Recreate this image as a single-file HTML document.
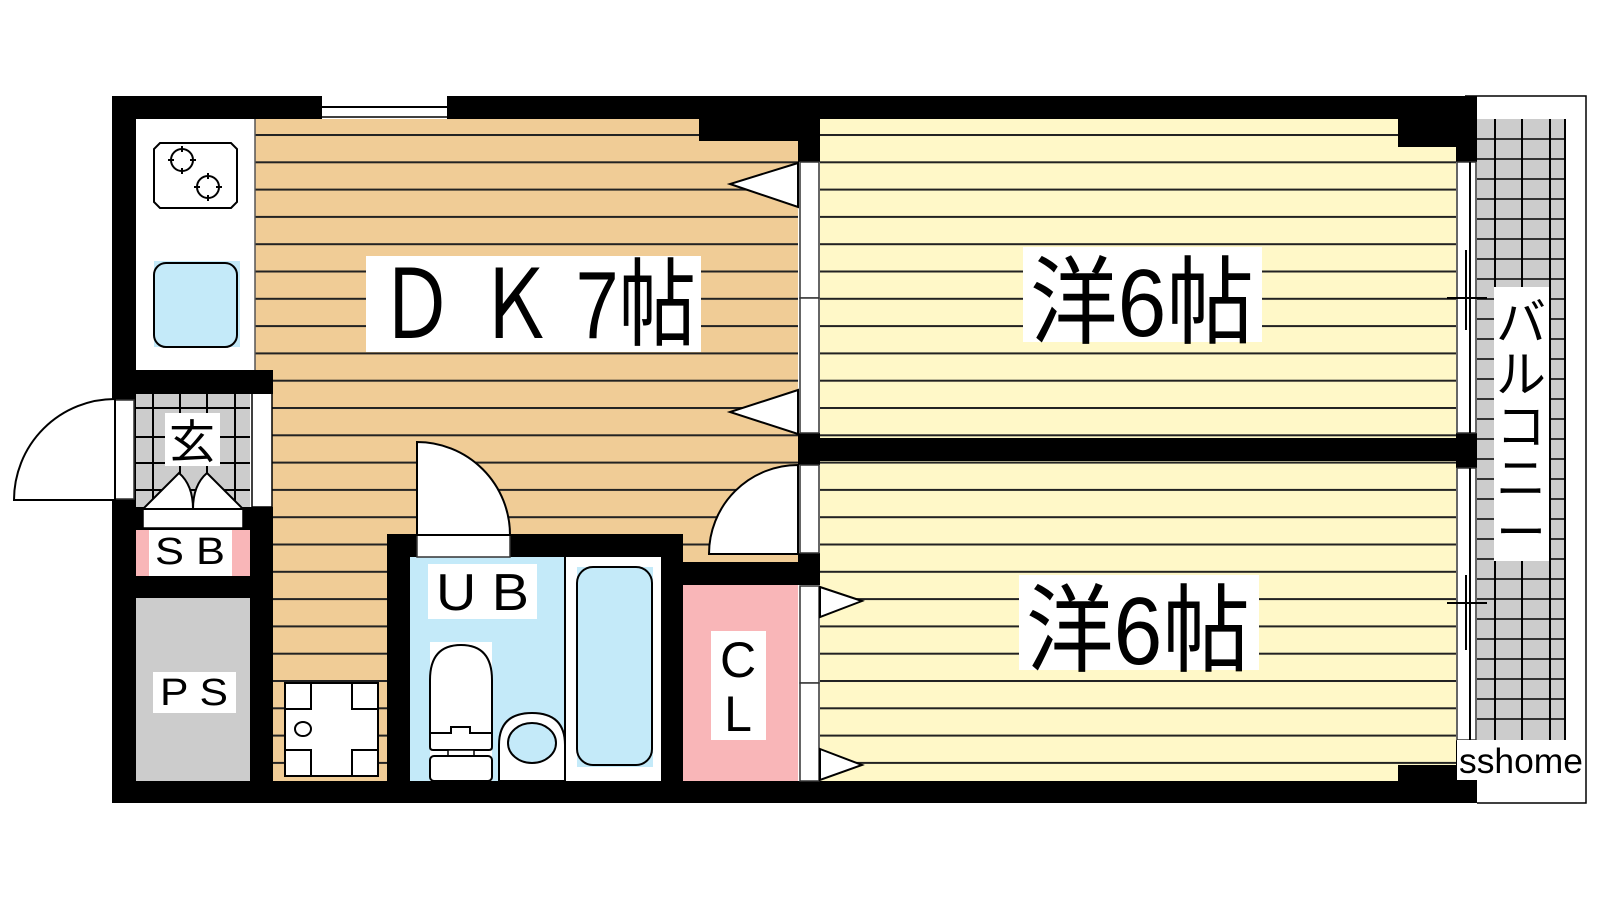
<!DOCTYPE html>
<html><head><meta charset="utf-8"><style>
html,body{margin:0;padding:0;background:#fff;}
svg{display:block}
text{font-family:"Liberation Sans","Noto Sans CJK JP",sans-serif;fill:#000}
</style></head><body>
<svg width="1600" height="900" viewBox="0 0 1600 900" xmlns="http://www.w3.org/2000/svg">
<defs>
<pattern id="dk" patternUnits="userSpaceOnUse" x="0" y="134" width="40" height="27.3"><rect width="40" height="27.3" fill="#F0CC96"/><rect width="40" height="2" fill="#222"/></pattern>
<pattern id="yo" patternUnits="userSpaceOnUse" x="0" y="134" width="40" height="27.3"><rect width="40" height="27.3" fill="#FFF8C8"/><rect width="40" height="2" fill="#222"/></pattern>
</defs>
<rect width="1600" height="900" fill="#fff"/>
<rect x="255" y="119" width="543" height="662" fill="url(#dk)"/>
<rect x="820" y="119" width="636" height="319" fill="url(#yo)"/>
<rect x="820" y="461" width="636" height="320" fill="url(#yo)"/>
<rect x="1477" y="119" width="88" height="621" fill="#ccc"/>
<g stroke="#000" stroke-width="2">
<line x1="1495" y1="119" x2="1495" y2="740"/><line x1="1522" y1="119" x2="1522" y2="740"/><line x1="1550" y1="119" x2="1550" y2="740"/><line x1="1565" y1="119" x2="1565" y2="740"/>
</g>
<g stroke="#000" stroke-width="1.6">
<line x1="1477" y1="139" x2="1565" y2="139"/><line x1="1477" y1="159" x2="1565" y2="159"/><line x1="1477" y1="179" x2="1565" y2="179"/><line x1="1477" y1="199" x2="1565" y2="199"/><line x1="1477" y1="219" x2="1565" y2="219"/><line x1="1477" y1="239" x2="1565" y2="239"/><line x1="1477" y1="259" x2="1565" y2="259"/><line x1="1477" y1="279" x2="1565" y2="279"/><line x1="1477" y1="299" x2="1565" y2="299"/><line x1="1477" y1="319" x2="1565" y2="319"/><line x1="1477" y1="339" x2="1565" y2="339"/><line x1="1477" y1="359" x2="1565" y2="359"/><line x1="1477" y1="379" x2="1565" y2="379"/><line x1="1477" y1="399" x2="1565" y2="399"/><line x1="1477" y1="419" x2="1565" y2="419"/><line x1="1477" y1="439" x2="1565" y2="439"/><line x1="1477" y1="459" x2="1565" y2="459"/><line x1="1477" y1="479" x2="1565" y2="479"/><line x1="1477" y1="499" x2="1565" y2="499"/><line x1="1477" y1="519" x2="1565" y2="519"/><line x1="1477" y1="539" x2="1565" y2="539"/><line x1="1477" y1="559" x2="1565" y2="559"/><line x1="1477" y1="579" x2="1565" y2="579"/><line x1="1477" y1="599" x2="1565" y2="599"/><line x1="1477" y1="619" x2="1565" y2="619"/><line x1="1477" y1="639" x2="1565" y2="639"/><line x1="1477" y1="659" x2="1565" y2="659"/><line x1="1477" y1="679" x2="1565" y2="679"/><line x1="1477" y1="699" x2="1565" y2="699"/><line x1="1477" y1="719" x2="1565" y2="719"/>
</g>
<polyline points="1465,96 1586,96 1586,803 1477,803" fill="none" stroke="#000" stroke-width="1.5"/>
<rect x="136" y="119" width="119" height="251" fill="#fff"/>
<line x1="255" y1="119" x2="255" y2="370" stroke="#555" stroke-width="1.5"/>
<path d="M160,143 H231 L237,149 V202 L231,208 H160 L154,202 V149 Z" fill="#fff" stroke="#000" stroke-width="2"/>
<g fill="none" stroke="#000" stroke-width="2">
<circle cx="182" cy="160" r="11"/><circle cx="208" cy="187" r="11"/>
<path d="M182,146 V152 M182,168 V174 M168,160 H174 M190,160 H196 M208,173 V179 M208,195 V201 M194,187 H200 M216,187 H222"/>
</g>
<rect x="154" y="261" width="86" height="86" fill="#C4EAF9"/>
<rect x="154" y="263" width="83" height="84" rx="12" fill="#C4EAF9" stroke="#000" stroke-width="2"/>
<rect x="136" y="393" width="114" height="114" fill="#ccc"/>
<g stroke="#000" stroke-width="2">
<line x1="153" y1="393" x2="153" y2="507"/><line x1="180" y1="393" x2="180" y2="507"/><line x1="207" y1="393" x2="207" y2="507"/><line x1="235" y1="393" x2="235" y2="507"/>
<line x1="136" y1="408" x2="250" y2="408"/><line x1="136" y1="437" x2="250" y2="437"/><line x1="136" y1="463" x2="250" y2="463"/><line x1="136" y1="490" x2="250" y2="490"/>
</g>
<rect x="252" y="393" width="20" height="114" fill="#fff" stroke="#000" stroke-width="1.5"/>
<rect x="136" y="598" width="114" height="183" fill="#ccc"/>
<rect x="683" y="585" width="115" height="196" fill="#F9B6B8"/>
<rect x="410" y="557" width="155" height="224" fill="#C4EAF9"/>
<rect x="565" y="557" width="96" height="224" fill="#fff"/>
<line x1="565" y1="557" x2="565" y2="781" stroke="#000" stroke-width="2"/>
<rect x="577" y="567" width="76" height="200" fill="#C4EAF9"/>
<rect x="577" y="567" width="75" height="198" rx="16" fill="#C4EAF9" stroke="#000" stroke-width="2"/>
<rect x="430" y="642" width="62" height="139" fill="#fff"/>
<path d="M430,733 V680 Q430,645 461,645 Q492,645 492,680 V733 Z" fill="#fff" stroke="#000" stroke-width="2"/>
<path d="M430,733 H451 V727 H470 V733 H492 V747 Q492,750 489,750 H433 Q430,750 430,747 Z" fill="#fff" stroke="#000" stroke-width="2"/>
<rect x="448" y="750" width="26" height="6" fill="#fff" stroke="#000" stroke-width="1.5"/>
<rect x="430" y="756" width="62" height="25" rx="4" fill="#fff" stroke="#000" stroke-width="2"/>
<path d="M499,781 V745 Q499,713 532,713 Q565,713 565,745 V781 Z" fill="#fff" stroke="#000" stroke-width="2"/>
<ellipse cx="532" cy="743" rx="24" ry="20" fill="#C4EAF9" stroke="#000" stroke-width="2"/>
<rect x="285" y="683" width="93" height="93" fill="#fff" stroke="#000" stroke-width="2"/>
<g fill="none" stroke="#000" stroke-width="2">
<path d="M285,709 H311 V683"/><path d="M352,683 V709 H378"/><path d="M285,750 H311 V776"/><path d="M352,776 V750 H378"/>
<ellipse cx="303" cy="729" rx="8" ry="7"/>
</g>
<g fill="#000">
<rect x="112" y="96" width="1365" height="23"/>
<rect x="112" y="96" width="24" height="707"/>
<rect x="112" y="781" width="1365" height="22"/>
<rect x="699" y="119" width="99" height="22"/>
<rect x="1398" y="119" width="58" height="28"/>
<rect x="1398" y="765" width="58" height="16"/>
<rect x="1456" y="96" width="21" height="66"/>
<rect x="1456" y="433" width="21" height="35"/>
<rect x="1456" y="740" width="21" height="63"/>
<rect x="798" y="119" width="22" height="43"/>
<rect x="798" y="433" width="22" height="32"/>
<rect x="798" y="438" width="679" height="23"/>
<rect x="798" y="553" width="22" height="32"/>
<rect x="683" y="562" width="137" height="23"/>
<rect x="387" y="534" width="296" height="23"/>
<rect x="387" y="534" width="23" height="247"/>
<rect x="661" y="534" width="22" height="247"/>
<rect x="112" y="370" width="161" height="24"/>
<rect x="250" y="507" width="23" height="274"/>
<rect x="112" y="507" width="161" height="23"/>
<rect x="112" y="576" width="161" height="22"/>
</g>
<rect x="136" y="530" width="114" height="46" fill="#F9B6B8"/>
<rect x="143" y="509" width="100" height="19" fill="#fff" stroke="#000" stroke-width="1.5"/>
<path d="M143,509 L179,473 Q193,485 193,509 Z M243,509 L207,473 Q193,485 193,509 Z" fill="#fff" stroke="#000" stroke-width="2"/>
<rect x="322" y="96" width="125" height="23" fill="#fff"/>
<line x1="322" y1="107" x2="447" y2="107" stroke="#000" stroke-width="2"/>
<line x1="322" y1="117" x2="447" y2="117" stroke="#000" stroke-width="1.5"/>
<g fill="#fff" stroke="#333" stroke-width="1.5">
<rect x="800" y="162" width="19" height="136"/><rect x="800" y="298" width="19" height="135"/>
<rect x="800" y="465" width="19" height="88"/>
<rect x="800" y="586" width="19" height="97"/><rect x="800" y="683" width="19" height="98"/>
<rect x="115" y="400" width="19" height="99"/>
<rect x="1457" y="162" width="19" height="271"/><rect x="1457" y="468" width="19" height="272"/>
</g>
<g stroke="#000" stroke-width="2">
<line x1="1470" y1="162" x2="1470" y2="433"/><line x1="1470" y1="468" x2="1470" y2="740"/>
<line x1="1466" y1="250" x2="1466" y2="330"/><line x1="1466" y1="575" x2="1466" y2="650"/>
<line x1="1447" y1="298" x2="1487" y2="298"/><line x1="1447" y1="603" x2="1487" y2="603"/>
</g>
<path d="M115,500 L115,399 A101,101 0 0 0 14,500 Z" fill="#fff" stroke="#000" stroke-width="2"/>
<rect x="417" y="535" width="93" height="22" fill="#fff" stroke="#333" stroke-width="1.5"/>
<path d="M417,535 L417,442 A93,93 0 0 1 510,535 Z" fill="#fff" stroke="#000" stroke-width="2"/>
<path d="M798,554 L798,465 A89,89 0 0 0 709,554 Z" fill="#fff" stroke="#000" stroke-width="2"/>
<g fill="#fff" stroke="#000" stroke-width="2">
<polygon points="798,163 730,184 798,207"/>
<polygon points="798,390 730,412 798,434"/>
<polygon points="820,587 862,601 820,617"/>
<polygon points="820,749 862,765 820,780"/>
</g>
<rect x="366" y="256" width="335" height="96" fill="#fff"/>
<text x="378" y="338" font-size="96" textLength="318" lengthAdjust="spacingAndGlyphs">Ｄ Ｋ 7帖</text>
<rect x="1023" y="247" width="239" height="95" fill="#fff"/>
<text x="1030" y="336" font-size="96" textLength="224" lengthAdjust="spacingAndGlyphs">洋6帖</text>
<rect x="1019" y="575" width="240" height="95" fill="#fff"/>
<text x="1026" y="664" font-size="96" textLength="224" lengthAdjust="spacingAndGlyphs">洋6帖</text>
<rect x="428" y="564" width="109" height="55" fill="#fff"/>
<text x="436" y="610" font-size="52" textLength="93" lengthAdjust="spacingAndGlyphs">U B</text>
<rect x="711" y="631" width="55" height="109" fill="#fff"/>
<text x="738" y="677" font-size="50" text-anchor="middle">C</text>
<text x="738" y="731" font-size="50" text-anchor="middle">L</text>
<rect x="153" y="672" width="83" height="41" fill="#fff"/>
<text x="160" y="705" font-size="38" textLength="68" lengthAdjust="spacingAndGlyphs">P S</text>
<rect x="149" y="530" width="83" height="46" fill="#fff"/>
<text x="155" y="564" font-size="38" textLength="70" lengthAdjust="spacingAndGlyphs">S B</text>
<rect x="165" y="413" width="55" height="53" fill="#fff"/>
<text x="192" y="458" font-size="46" text-anchor="middle">玄</text>
<rect x="1494" y="287" width="55" height="274" fill="#fff"/>
<text x="1521" y="340" font-size="50" text-anchor="middle">バ</text>
<text x="1521" y="392" font-size="50" text-anchor="middle">ル</text>
<text x="1521" y="444" font-size="50" text-anchor="middle">コ</text>
<text x="1521" y="496" font-size="50" text-anchor="middle">ニ</text>
<text x="1521" y="550" font-size="50" text-anchor="middle">ー</text>
<rect x="1457" y="740" width="128" height="40" fill="#fff"/>
<text x="1459" y="773" font-size="35" textLength="124" lengthAdjust="spacingAndGlyphs">sshome</text>
</svg>
</body></html>
